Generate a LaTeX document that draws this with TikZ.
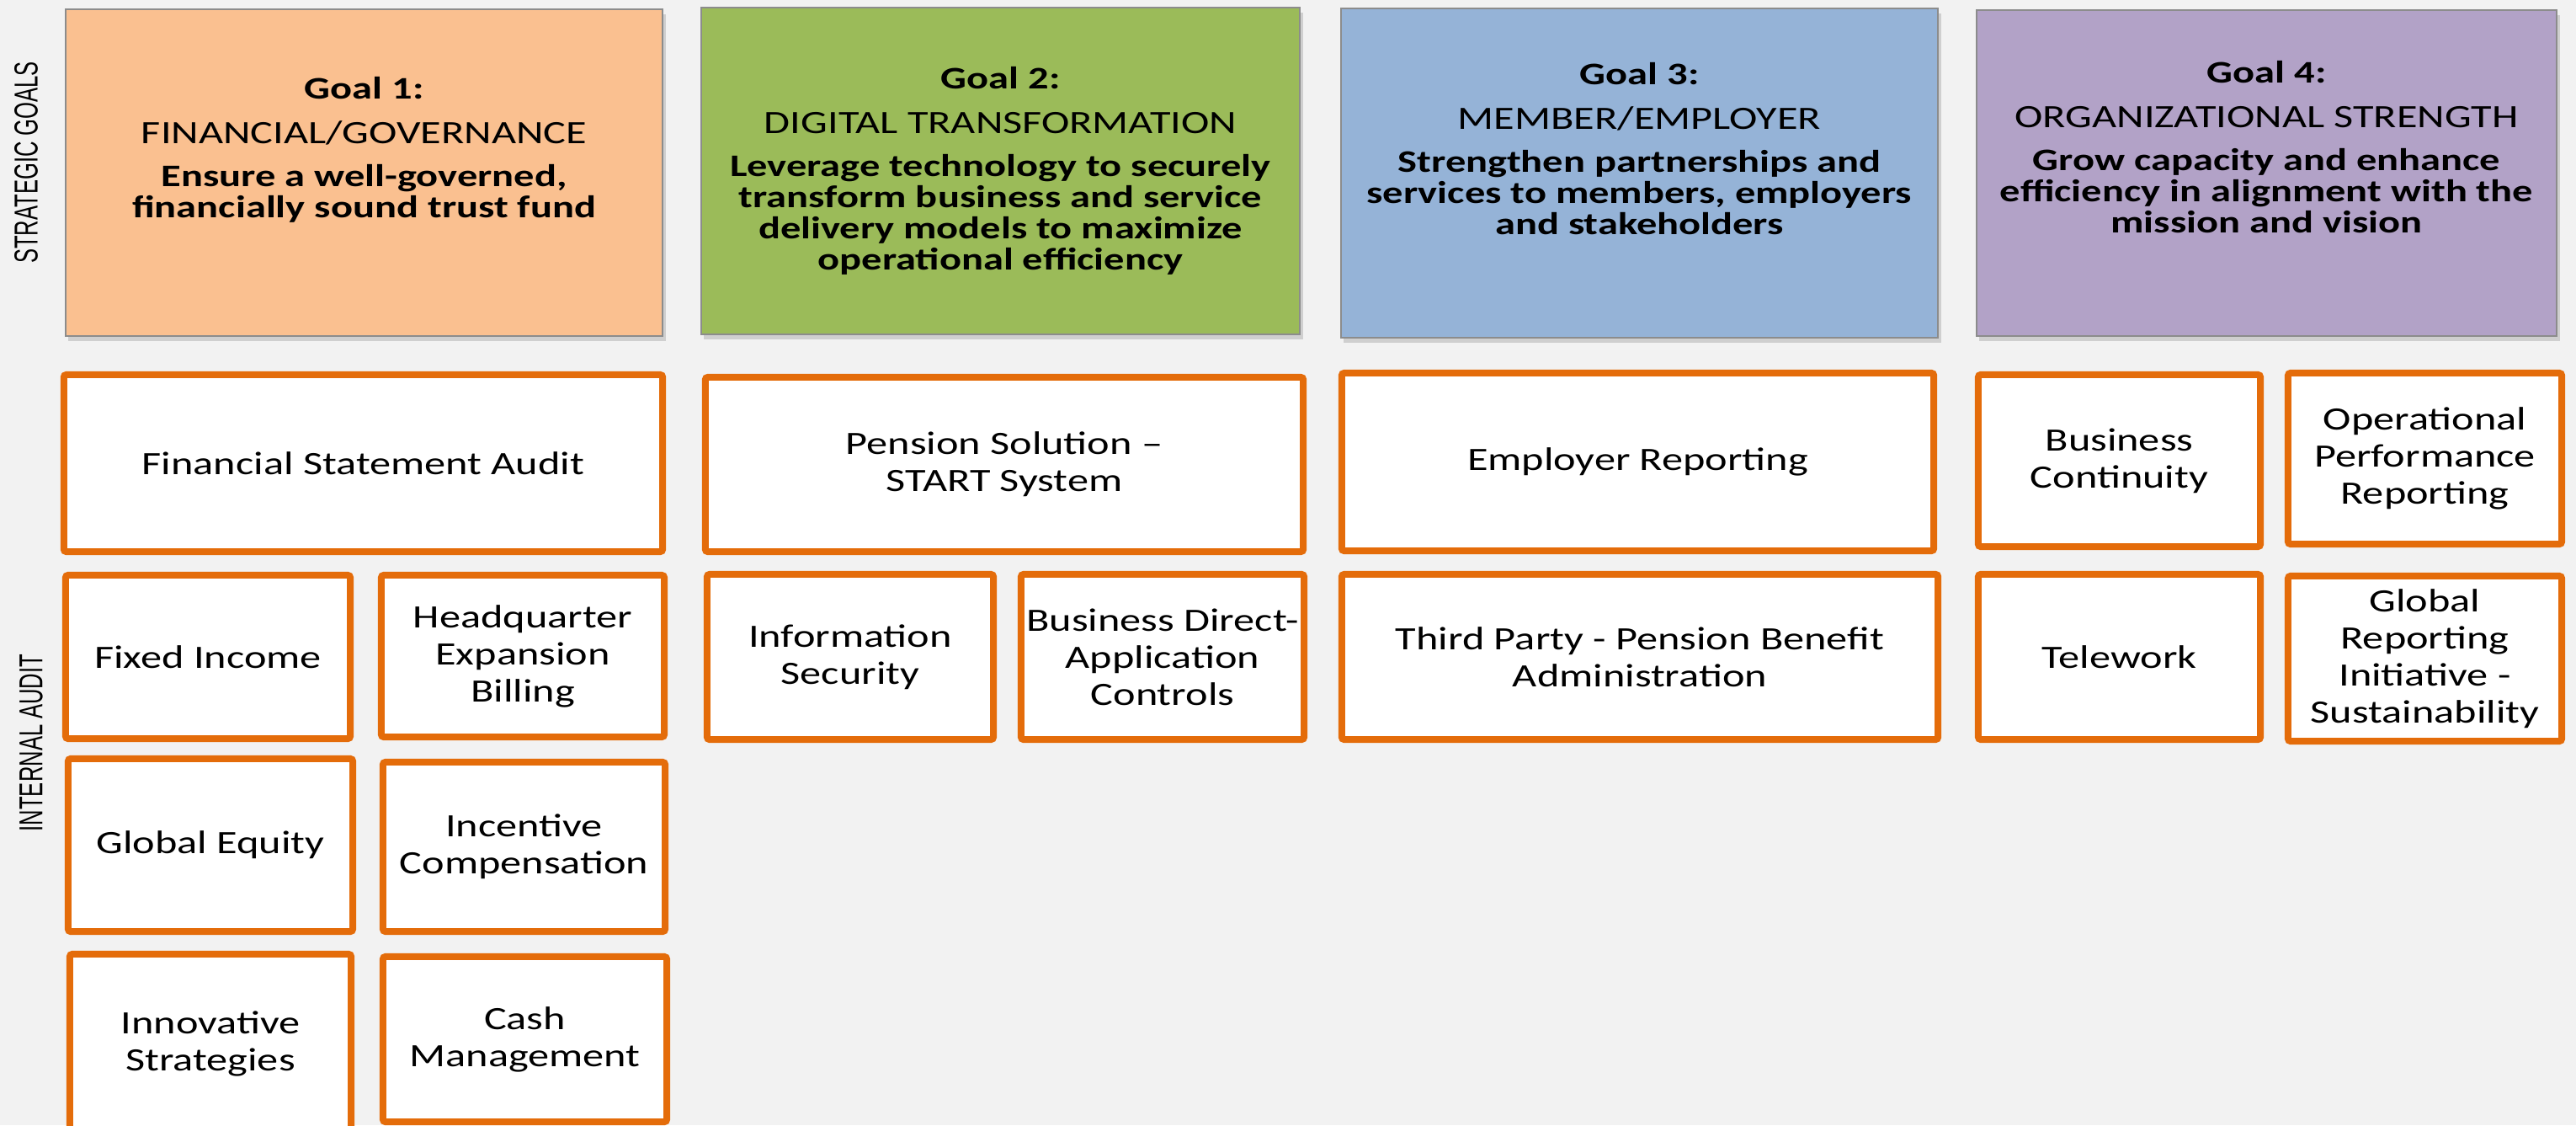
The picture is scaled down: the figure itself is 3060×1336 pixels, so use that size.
\documentclass[tikz,border=0pt]{standalone}
\usepackage{fontspec}
\setmainfont{Carlito}
\newfontfamily\boxfont[FakeStretch=1.3, Ligatures=TeX]{Carlito}
\newfontfamily\sidefont[FakeStretch=0.65]{Liberation Sans}
\usetikzlibrary{
    positioning,
    shadows
}
\definecolor{pagegray}{HTML}{F2F2F2}
\definecolor{auditorange}{HTML}{E46C0A}
\definecolor{goalorange}{HTML}{FAC090}
\definecolor{goalgreen}{HTML}{9BBB59}
\definecolor{goalblue}{HTML}{95B3D7}
\definecolor{goalpurple}{HTML}{B2A2C7}
\tikzset{
    goal/.style={draw=black!45, line width=0.2mm, inner sep=0pt,
        drop shadow={shadow xshift=0.35mm, shadow yshift=-0.6mm, opacity=0.3}},
    goaltext/.style={anchor=north, align=center, inner sep=0pt,
        font={\boxfont\bfseries\fontsize{10.6}{10.5}\selectfont}},
    audit/.style={draw=auditorange, fill=white, line width=0.8mm,
        rounded corners=0.3mm, align=center, inner sep=0pt,
        font={\boxfont\fontsize{11}{12.5}\selectfont}},
    side/.style={rotate=90, inner sep=0pt,
        font={\sidefont\fontsize{11.2}{13}\selectfont}}
}
\newcommand{\goalarea}[1]{{\mdseries\fontsize{11}{10.5}\selectfont #1}}

\begin{document}
\begin{tikzpicture}[x=0.01cm, y=-0.01cm]
        \useasboundingbox (0,0) rectangle (3060,1336);
        \clip (0,0) rectangle (3060,1336);
        \fill[pagegray] (0,0) rectangle (3060,1336);

        % row labels
        \draw (31,193) node[side](sg){STRATEGIC GOALS};
        \draw (37,882) node[side](ia){INTERNAL AUDIT};

        % strategic goals
        \draw (432.5,205) node[goal, fill=goalorange, minimum width=7.09cm, minimum height=3.88cm](g1){};
        \draw (1188.5,203) node[goal, fill=goalgreen, minimum width=7.11cm, minimum height=3.88cm](g2){};
        \draw (1947.5,205.5) node[goal, fill=goalblue, minimum width=7.09cm, minimum height=3.91cm](g3){};
        \draw (2692.5,205.5) node[goal, fill=goalpurple, minimum width=6.89cm, minimum height=3.87cm](g4){};

        \draw (432.5,91) node[goaltext](g1t){Goal 1:\\[4.6pt]\goalarea{FINANCIAL/GOVERNANCE}\\[4pt]Ensure a well-governed,\\financially sound trust fund};
        \draw (1188.5,79) node[goaltext](g2t){Goal 2:\\[4.6pt]\goalarea{DIGITAL TRANSFORMATION}\\[4pt]Leverage technology to securely\\transform business and service\\delivery models to maximize\\operational efficiency};
        \draw (1947.5,74) node[goaltext](g3t){Goal 3:\\[4.6pt]\goalarea{MEMBER/EMPLOYER}\\[4pt]Strengthen partnerships and\\services to members, employers\\and stakeholders};
        \draw (2692.5,72) node[goaltext](g4t){Goal 4:\\[4.6pt]\goalarea{ORGANIZATIONAL STRENGTH}\\[4pt]Grow capacity and enhance\\efficiency in alignment with the\\mission and vision};

        % internal audit, goal 1
        \draw (431.5,550) node[audit, minimum width=7.11cm, minimum height=2.10cm](fsa){Financial Statement Audit};
        \draw (247,780) node[audit, minimum width=3.38cm, minimum height=1.94cm](fixed){Fixed Income};
        \draw (621,779) node[audit, minimum width=3.36cm, minimum height=1.92cm](hq){Headquarter\\Expansion\\Billing};
        \draw (250,1003.5) node[audit, minimum width=3.38cm, minimum height=2.05cm](equity){Global Equity};
        \draw (622.5,1005.5) node[audit, minimum width=3.35cm, minimum height=2.01cm](incent){Incentive\\Compensation};
        \draw (250,1239.5) node[audit, minimum width=3.34cm, minimum height=2.13cm](innov){Innovative\\Strategies};
        \draw (623.5,1234) node[audit, minimum width=3.37cm, minimum height=1.96cm](cash){Cash\\Management};

        % internal audit, goal 2
        \draw (1193,551.5) node[audit, minimum width=7.10cm, minimum height=2.07cm](pension){Pension Solution –\\START System};
        \draw (1010,780) node[audit, minimum width=3.40cm, minimum height=1.96cm](infosec){Information\\Security};
        \draw (1381,780) node[audit, minimum width=3.36cm, minimum height=1.96cm](bizdirect){Business Direct-\\Application\\Controls};

        % internal audit, goal 3
        \draw (1945.5,548.5) node[audit, minimum width=7.03cm, minimum height=2.11cm](employer){Employer Reporting};
        \draw (1948,780) node[audit, minimum width=7.08cm, minimum height=1.96cm](thirdparty){Third Party - Pension Benefit\\Administration};

        % internal audit, goal 4
        \draw (2517.5,547) node[audit, minimum width=3.35cm, minimum height=2.04cm](contin){Business\\Continuity};
        \draw (2880.5,544.5) node[audit, minimum width=3.25cm, minimum height=2.03cm](opperf){Operational\\Performance\\Reporting};
        \draw (2517.5,780) node[audit, minimum width=3.35cm, minimum height=1.96cm](telework){Telework};
        \draw (2880.5,782) node[audit, minimum width=3.25cm, minimum height=1.96cm](gri){Global\\Reporting\\Initiative -\\Sustainability};
\end{tikzpicture}
\end{document}
